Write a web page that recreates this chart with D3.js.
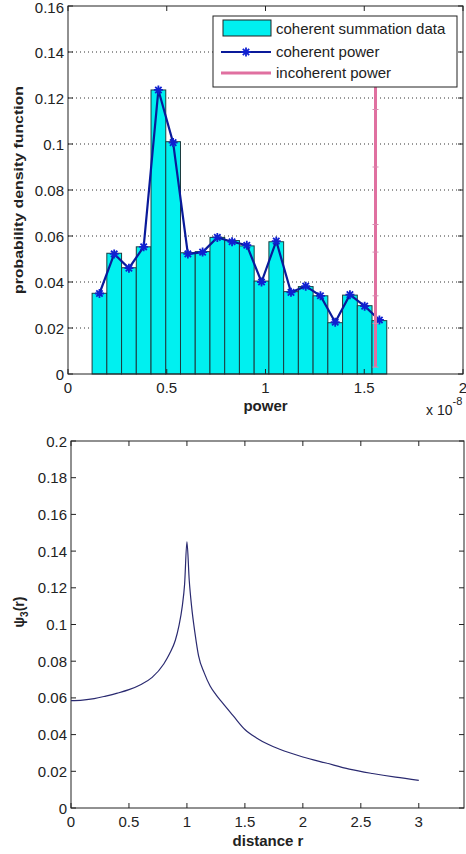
<!DOCTYPE html>
<html lang="en">
<head>
<meta charset="UTF-8">
<title>Coherent power histogram and psi3(r)</title>
<script src="https://d3js.org/d3.v7.min.js"></script>
<style>
    body { margin: 0; background: #fff; }
    svg text { font-family: "Liberation Sans", Arial, sans-serif; fill: #222; }
    .tick-label { font-size: 15px; }
    .axis-title { font-size: 14px; font-weight: bold; }
    .legend-text { font-size: 15px; }
</style>
</head>
<body>
<svg width="466" height="854"></svg>
<script>
// ---- top plot data (power in units of 1e-8) ----
const binEdgeStart = 0.122;
const binWidth = 0.0746;
const binHeights = [0.0351, 0.0525, 0.0462, 0.0553, 0.1235, 0.1010, 0.0527, 0.0532, 0.0594, 0.0580,
                    0.0557, 0.0404, 0.0575, 0.0358, 0.0380, 0.0340, 0.0223, 0.0343, 0.0297, 0.0232];
const coherentPower = [0.0350, 0.0522, 0.0460, 0.0553, 0.1235, 0.1006, 0.0522, 0.0530, 0.0594, 0.0575,
                       0.0560, 0.0400, 0.0578, 0.0355, 0.0382, 0.0340, 0.0225, 0.0345, 0.0295, 0.0235];
const incoherentX = 1.557;
const incoherentY = [0.003, 0.022, 0.034, 0.053, 0.065, 0.09, 0.115, 0.14];
const topXTicks = [0, 0.5, 1, 1.5, 2];
const topYTicks = [0, 0.02, 0.04, 0.06, 0.08, 0.1, 0.12, 0.14, 0.16];

// ---- bottom plot data ----
const distR = [0, 0.1, 0.2, 0.3, 0.4, 0.5, 0.6, 0.7, 0.8, 0.85, 0.9, 0.93, 0.96, 0.98, 1.0,
               1.02, 1.04, 1.07, 1.1, 1.15, 1.2, 1.25, 1.3, 1.4, 1.5, 1.6, 1.7, 1.8, 2.0, 2.2, 2.4, 2.6, 2.8, 3.0];
const psi3 = [0.0585, 0.0588, 0.0596, 0.0610, 0.0626, 0.0645, 0.0672, 0.0712, 0.0785, 0.0840, 0.0914,
              0.0990, 0.1100, 0.1220, 0.1450, 0.1240, 0.1100, 0.0950, 0.0830, 0.0735, 0.0665, 0.0618,
              0.0578, 0.0502, 0.0428, 0.0382, 0.0347, 0.0320, 0.0278, 0.0245, 0.0212, 0.0188, 0.0168, 0.0151];
const botXTicks = [0, 0.5, 1, 1.5, 2, 2.5, 3];
const botYTicks = [0, 0.02, 0.04, 0.06, 0.08, 0.1, 0.12, 0.14, 0.16, 0.18, 0.2];

const svg = d3.select("svg");
const fmt = d => d === 0 ? "0" : String(+d.toFixed(2));

// draws the box, inward ticks on all four sides and tick labels
function drawFrame(g, x, y, xTicks, yTicks) {
    const [x0, x1] = x.range();
    const [y0, y1] = y.range();
    const tl = 5;
    g.append("rect")
        .attr("x", x0).attr("y", y1)
        .attr("width", x1 - x0).attr("height", y0 - y1)
        .attr("fill", "none").attr("stroke", "#222").attr("stroke-width", 1);
    xTicks.forEach(t => {
        const px = x(t);
        g.append("line").attr("x1", px).attr("x2", px).attr("y1", y0).attr("y2", y0 - tl).attr("stroke", "#222");
        g.append("line").attr("x1", px).attr("x2", px).attr("y1", y1).attr("y2", y1 + tl).attr("stroke", "#222");
        g.append("text").attr("class", "tick-label")
            .attr("x", px).attr("y", y0 + 19).attr("text-anchor", "middle").text(fmt(t));
    });
    yTicks.forEach(t => {
        const py = y(t);
        g.append("line").attr("x1", x0).attr("x2", x0 + tl).attr("y1", py).attr("y2", py).attr("stroke", "#222");
        g.append("line").attr("x1", x1).attr("x2", x1 - tl).attr("y1", py).attr("y2", py).attr("stroke", "#222");
        g.append("text").attr("class", "tick-label")
            .attr("x", x0 - 4).attr("y", Math.max(py + 5.5, 13)).attr("text-anchor", "end").text(fmt(t));
    });
}

function star(g, cx, cy, r, color) {
    const p = [];
    for (let k = 0; k < 4; k++) {
        const a = k * Math.PI / 4;
        p.push(`M${cx - r * Math.cos(a)},${cy - r * Math.sin(a)}L${cx + r * Math.cos(a)},${cy + r * Math.sin(a)}`);
    }
    g.append("path").attr("d", p.join("")).attr("stroke", color).attr("stroke-width", 1.8);
}

// ================= TOP PLOT =================
const xTop = d3.scaleLinear().domain([0, 2]).range([68, 463]);
const yTop = d3.scaleLinear().domain([0, 0.16]).range([374, 6]);
const gTop = svg.append("g");

// dotted horizontal grid
gTop.selectAll("line.grid").data(topYTicks.slice(1, -1)).enter().append("line")
    .attr("class", "grid")
    .attr("x1", xTop(0)).attr("x2", xTop(2))
    .attr("y1", d => yTop(d)).attr("y2", d => yTop(d))
    .attr("stroke", "#333").attr("stroke-width", 1).attr("stroke-dasharray", "1,3");

// histogram bars
gTop.selectAll("rect.bar").data(binHeights).enter().append("rect")
    .attr("class", "bar")
    .attr("x", (d, i) => xTop(binEdgeStart + i * binWidth))
    .attr("width", xTop(binWidth) - xTop(0))
    .attr("y", d => yTop(d))
    .attr("height", d => yTop(0) - yTop(d))
    .attr("fill", "#00f0f0").attr("stroke", "#1c3c40").attr("stroke-width", 1);

// coherent power line
const cohPts = coherentPower.map((v, i) => [binEdgeStart + (i + 0.5) * binWidth, v]);
gTop.append("path")
    .attr("d", d3.line().x(d => xTop(d[0])).y(d => yTop(d[1]))(cohPts))
    .attr("fill", "none").attr("stroke", "#0a1a9a").attr("stroke-width", 2.2);
cohPts.forEach(d => star(gTop, xTop(d[0]), yTop(d[1]), 4.5, "#1020d0"));

// incoherent power vertical line
gTop.append("path")
    .attr("d", d3.line().x(() => xTop(incoherentX)).y(d => yTop(d))(incoherentY))
    .attr("fill", "none").attr("stroke", "#e070a0").attr("stroke-width", 3);
incoherentY.forEach(v => {
    gTop.append("line")
        .attr("x1", xTop(incoherentX) - 3).attr("x2", xTop(incoherentX) + 3)
        .attr("y1", yTop(v)).attr("y2", yTop(v))
        .attr("stroke", "#d88ab0").attr("stroke-width", 1);
});

drawFrame(gTop, xTop, yTop, topXTicks, topYTicks);

// legend
const lg = gTop.append("g");
lg.append("rect").attr("x", 213).attr("y", 16).attr("width", 244).attr("height", 71)
    .attr("fill", "#fff").attr("stroke", "#222");
lg.append("rect").attr("x", 223).attr("y", 20).attr("width", 48).attr("height", 16)
    .attr("fill", "#00f0f0").attr("stroke", "#222");
lg.append("line").attr("x1", 221).attr("x2", 271).attr("y1", 52).attr("y2", 52)
    .attr("stroke", "#0a1a9a").attr("stroke-width", 2.2);
star(lg, 246, 52, 4.5, "#1020d0");
lg.append("line").attr("x1", 221).attr("x2", 271).attr("y1", 73).attr("y2", 73)
    .attr("stroke", "#e070a0").attr("stroke-width", 3);
const legendLabels = ["coherent summation data", "coherent power", "incoherent power"];
legendLabels.forEach((t, i) => {
    lg.append("text").attr("class", "legend-text")
        .attr("x", 276).attr("y", [34, 57, 78][i]).text(t);
});

gTop.append("text").attr("class", "axis-title")
    .attr("transform", `translate(23,${(yTop(0) + yTop(0.16)) / 2}) rotate(-90)`)
    .attr("text-anchor", "middle")
    .style("font-size", "13px")
    .attr("textLength", 208).attr("lengthAdjust", "spacingAndGlyphs")
    .text("probability density function");
gTop.append("text").attr("class", "axis-title")
    .attr("x", xTop(1)).attr("y", 411).attr("text-anchor", "middle")
    .style("font-size", "15px").text("power");
const expo = gTop.append("text").attr("class", "tick-label").attr("x", 426).attr("y", 415)
    .style("font-size", "14px");
expo.append("tspan").text("x 10");
expo.append("tspan").attr("dy", -10).style("font-size", "11px").text("-8");

// ================= BOTTOM PLOT =================
const xBot = d3.scaleLinear().domain([0, 3.39]).range([71, 464]);
const yBot = d3.scaleLinear().domain([0, 0.2]).range([808, 441]);
const gBot = svg.append("g");

drawFrame(gBot, xBot, yBot, botXTicks, botYTicks);

gBot.append("path")
    .datum(distR.map((r, i) => [r, psi3[i]]))
    .attr("d", d3.line().x(d => xBot(d[0])).y(d => yBot(d[1])).curve(d3.curveMonotoneX))
    .attr("fill", "none").attr("stroke", "#2a2a70").attr("stroke-width", 1.2);

const yl = gBot.append("text").attr("class", "axis-title")
    .attr("transform", `translate(24,612) rotate(-90)`).attr("text-anchor", "middle");
yl.append("tspan").text("\u03c8");
yl.append("tspan").attr("dy", 4).style("font-size", "10px").text("3");
yl.append("tspan").attr("dy", -4).text("(r)");

gBot.append("text").attr("class", "axis-title")
    .attr("x", 268).attr("y", 846).attr("text-anchor", "middle")
    .style("font-size", "15px").text("distance r");
</script>
</body>
</html>
